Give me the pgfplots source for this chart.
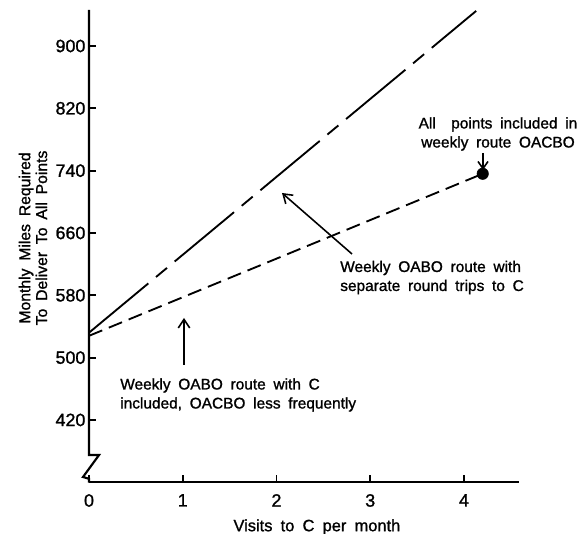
\documentclass[border=0pt]{standalone}
\usepackage{fontspec}
\setmainfont{Liberation Sans}[WordSpace=1.8, FakeBold=1.2]
\newfontfamily\tickfont{Liberation Sans}[FakeBold=1.2]
\usepackage{pgfplots}
\pgfplotsset{compat=1.18}
\usetikzlibrary{arrows.meta}
\begin{document}
\begin{tikzpicture}
\useasboundingbox (0,0) rectangle (405.3pt,373.8pt);
\begin{axis}[
  at={(62.3pt,36.4pt)}, anchor=south west,
  scale only axis, width=301pt, height=330.4pt,
  xmin=0, xmax=4.587, ymin=340.4, ymax=946.2,
  axis x line=bottom, axis y line=left,
  x axis line style={-, line width=1.5pt},
  y axis line style={draw=none},
  xtick={0,1,2,3,4}, ytick={420,500,580,660,740,820,900},
  tick align=inside, major tick length=5pt,
  tick style={line width=1.3pt, black},
  /pgf/number format/assume math mode=true,
  ticklabel style={font=\tickfont\fontsize{12.5}{14}\selectfont},
  yticklabel style={xshift=1pt},
  xticklabel style={yshift=-5pt},
  xlabel={Visits to C per month},
  xlabel style={at={(axis description cs:0.530,-0.0953)}, anchor=center, font=\fontsize{11.5}{13}\selectfont},
  ylabel={Monthly\ Miles\ Required\\To Deliver To All Points},
  ylabel style={at={(axis description cs:-0.1302,0.517)}, anchor=center, align=center, font=\fontsize{11}{11.8}\selectfont},
  clip=false,
]
% separate round trips
\addplot[black, line width=1.3pt, dash pattern=on 54pt off 7pt on 10pt off 7pt] coordinates {(0,532) (4.13,945)};
% C included, OACBO less frequently
\addplot[black, line width=1.3pt, dash pattern=on 10pt off 5pt] coordinates {(0,528) (4.2,736)};
% all points in weekly OACBO
\addplot[black, only marks, mark=*, mark size=4pt] coordinates {(4.2,736)};
% y axis with break
\draw[line width=1.5pt, line join=miter] (axis cs:0,946.2) -- (axis cs:0,375) -- (axis cs:0.107,375) -- (axis cs:-0.064,346.8) -- (axis cs:0,344.5) -- (axis cs:0,339.5);
\end{axis}
\begin{scope}[x=0.7pt, y=-0.7pt, yshift=373.8pt, font=\fontsize{10.8}{13.3}\selectfont]
\node[align=center] at (498,134) {All\ \ points included in\\weekly route OACBO};
\draw[line width=1.1pt, -{Straight Barb[length=5pt,width=7pt]}] (483,153) -- (483,170);
\node[align=left, anchor=west, inner sep=0pt] at (340,277.5) {Weekly OABO route with\\separate round trips to C};
\draw[line width=1.1pt, -{Straight Barb[length=6pt,width=8pt]}] (352,254) -- (282,193);
\node[align=left, anchor=west, inner sep=0pt] at (120,395) {Weekly OABO route with C\\included, OACBO less frequently};
\draw[line width=1.1pt, -{Straight Barb[length=6pt,width=8pt]}] (184,365) -- (184,318);
\end{scope}
\end{tikzpicture}
\end{document}
